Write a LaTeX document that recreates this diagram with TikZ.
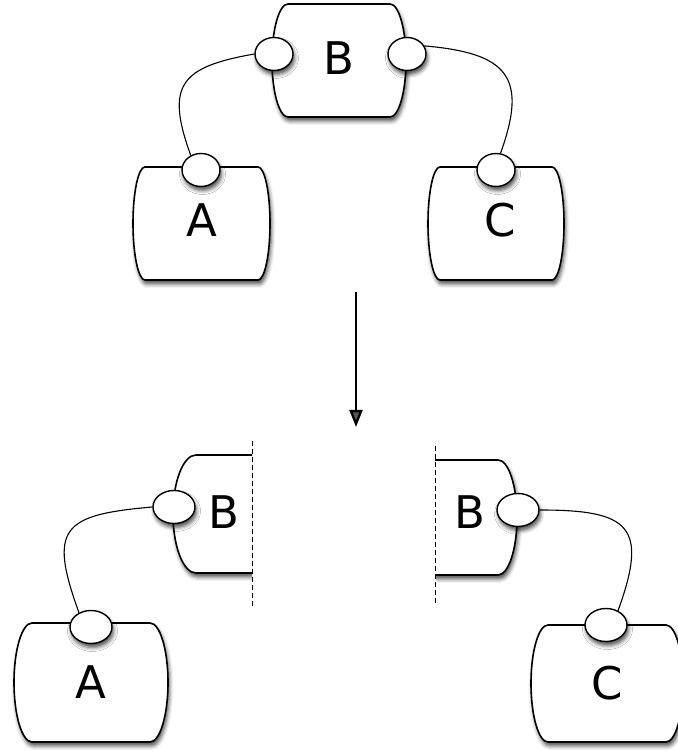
\documentclass[tikz,border=0pt]{standalone}
\usepackage{fontspec}
\setmainfont{DejaVu Sans}
\usetikzlibrary{shapes.geometric,arrows.meta,shadows.blur}

\tikzset{
  soft/.style={blur shadow={shadow xshift=1.5pt, shadow yshift=-4pt, shadow blur radius=4pt, shadow opacity=70}},
  comp/.style={inner sep=0pt, outer sep=0pt},
  lbl/.style={font=\fontsize{45}{54}\selectfont},
  body/.style={draw, line width=1.6pt, fill=white, soft},
  port/.style={ellipse, draw, line width=1.4pt, fill=white, soft, minimum width=38pt, minimum height=33pt, inner sep=0pt},
  wire/.style={line width=1.1pt},
  cut/.style={dash pattern=on 5pt off 3pt, line width=0.8pt},
  flow/.style={line width=2.3pt, -{Triangle[length=17pt,width=13pt]}}
}

% name, bulge, half height
\newcommand{\Barrel}[3]{%
  \draw[body] (#1.north west) -- (#1.north east)
    arc[start angle=90, end angle=-90, x radius=#2, y radius=#3]
    -- (#1.south west)
    arc[start angle=270, end angle=90, x radius=#2, y radius=#3] -- cycle;}

\begin{document}
\begin{tikzpicture}[x=1pt,y=1pt]
\useasboundingbox (0,0) rectangle (677,751);

\node[comp, minimum width=102pt, minimum height=113pt] (B) at (339,690.5) {};
\node[comp, minimum width=113pt, minimum height=113pt] (A) at (201.5,527.5) {};
\node[comp, minimum width=112pt, minimum height=113pt] (C) at (496,527.5) {};

\node[comp, minimum width=56pt, minimum height=118pt] (BL) at (224,237) {};
\node[comp, minimum width=63pt, minimum height=115pt] (BR) at (466.5,233.5) {};
\node[comp, minimum width=118pt, minimum height=119pt] (A2) at (91,68.5) {};
\node[comp, minimum width=118pt, minimum height=117pt] (C2) at (607,67.5) {};

\Barrel{B}{16}{56.5}
\Barrel{A}{12}{56.5}
\Barrel{C}{12}{56.5}
\Barrel{A2}{18}{59.5}
\Barrel{C2}{17}{58.5}
\begin{scope}
\clip ([yshift=-20pt]BL.south east) rectangle ([xshift=-120pt,yshift=20pt]BL.north east);
\draw[body] (BL.north east) -- (BL.north west)
  arc[start angle=90, end angle=270, x radius=23, y radius=59] -- (BL.south east);
\end{scope}
\begin{scope}
\clip ([yshift=-20pt]BR.south west) rectangle ([xshift=120pt,yshift=20pt]BR.north west);
\draw[body] (BR.north west) -- (BR.north east)
  arc[start angle=90, end angle=-90, x radius=19, y radius=57.5] -- (BR.south west);
\end{scope}

\node[lbl] (tB) at ([yshift=2pt]B) {B};
\node[lbl] (tA) at ([yshift=3pt]A) {A};
\node[lbl] (tC) at ([xshift=4pt,yshift=3pt]C) {C};
\node[lbl] (tBL) at ([yshift=2pt]BL) {B};
\node[lbl] (tBR) at ([xshift=3pt,yshift=5pt]BR) {B};
\node[lbl] (tA2) at (A2) {A};
\node[lbl] (tC2) at (C2) {C};

\node[port] (pB1) at (274,697) {};
\node[port] (pB2) at (407,697) {};
\node[port] (pA) at (201,581) {};
\node[port] (pC) at (496,581) {};
\node[port, minimum width=42pt] (pB3) at (174,244) {};
\node[port, minimum width=42pt] (pB4) at (518,241) {};
\node[port, minimum width=42pt] (pA2) at (91,124) {};
\node[port, minimum width=42pt] (pC2) at (606,126) {};

\draw[wire] (pB1.west) to[out=190, in=110, looseness=1.6] (pA.125);
\draw[wire] (pB2.25) to[out=-5, in=70, looseness=1.6] (pC.75);
\draw[wire] (pB3.west) to[out=185, in=110, looseness=1.8] (pA2.130);
\draw[wire] (pB4.east) to[out=0, in=70, looseness=1.8] (pC2.50);

\draw[cut] ([yshift=14pt]BL.north east) -- ([yshift=-33pt]BL.south east);
\draw[cut] ([yshift=14pt]BR.north west) -- ([yshift=-28pt]BR.south west);

\coordinate (from) at (356,459);
\coordinate (to) at (356,324);
\draw[flow] (from) -- (to);
\end{tikzpicture}
\end{document}
